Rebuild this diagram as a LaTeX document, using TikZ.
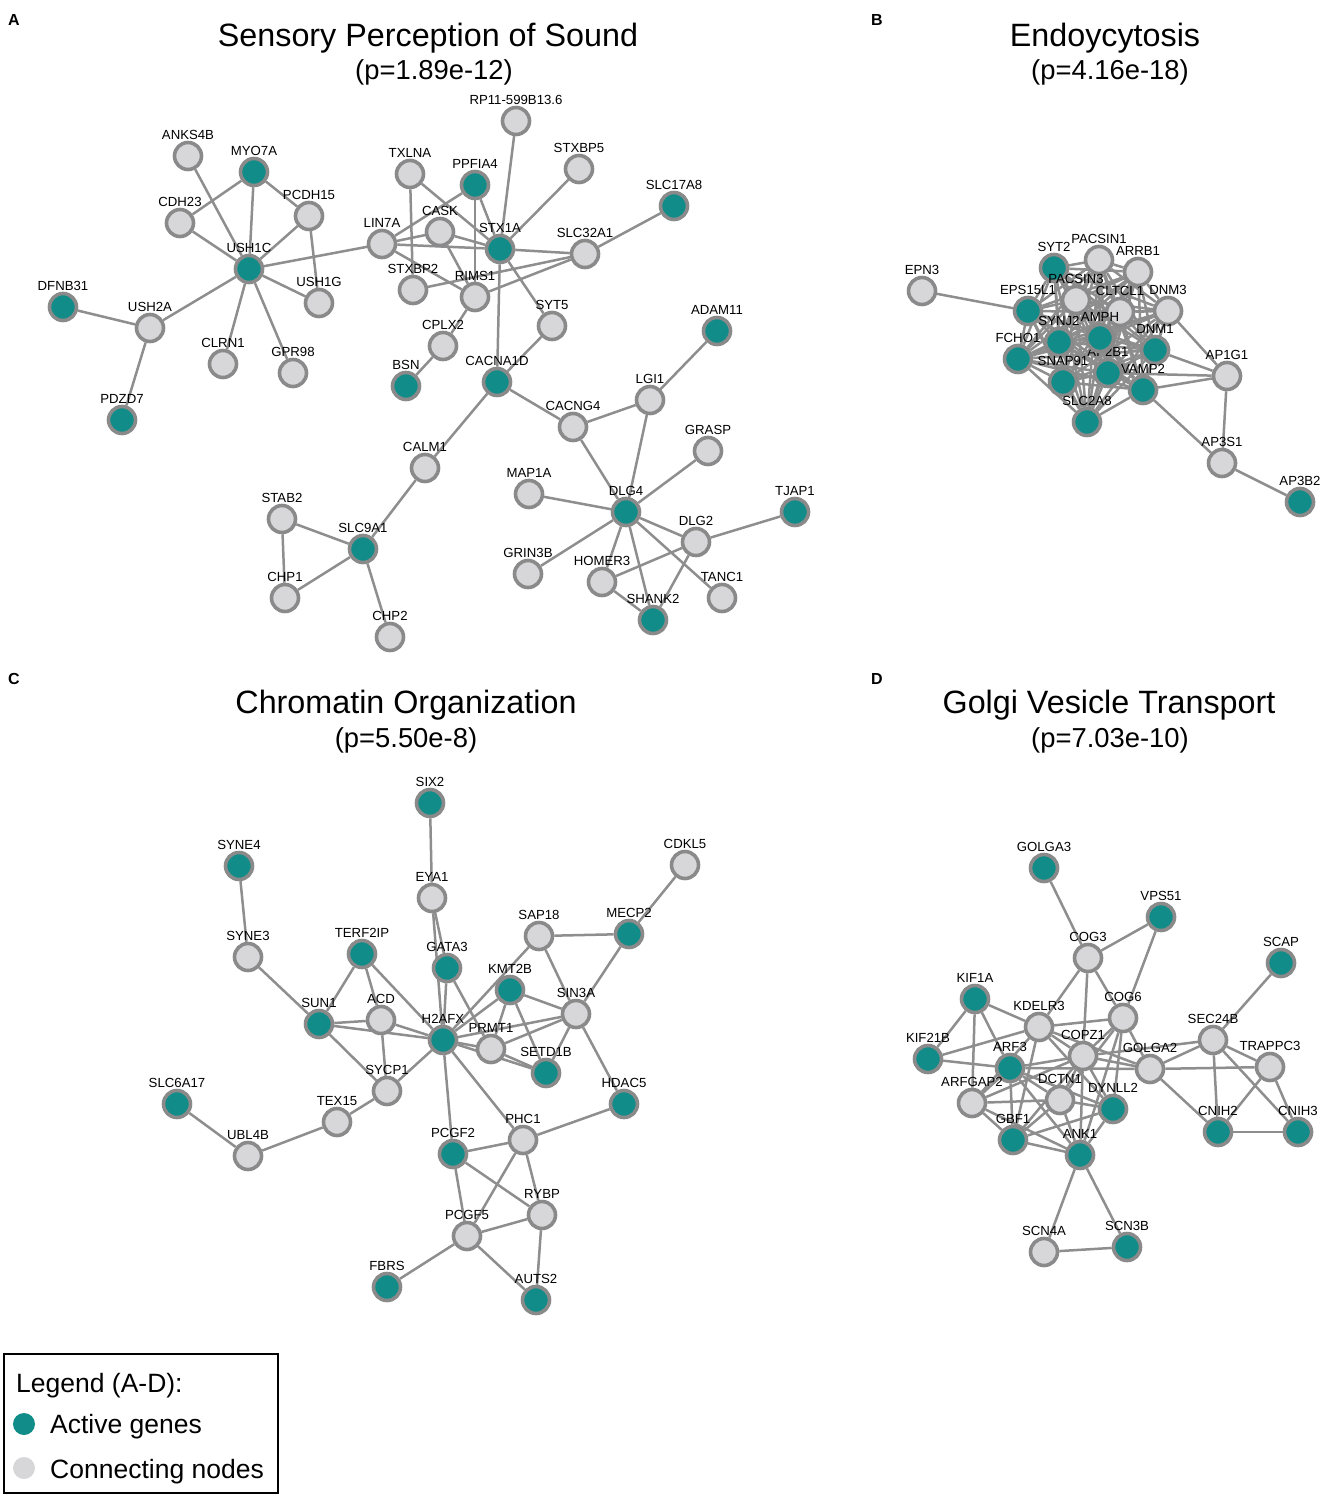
\documentclass[tikz,border=0pt]{standalone}
\usepackage{fontspec}
\setmainfont{Liberation Sans}
\definecolor{activeteal}{RGB}{18,140,136}
\definecolor{nodegray}{RGB}{215,215,217}
\definecolor{rimgray}{RGB}{138,138,138}
\definecolor{linkgray}{RGB}{142,142,142}
\newcommand{\genefont}{\fontsize{13.2}{15}\selectfont}
\pgfdeclarelayer{edges}
\pgfsetlayers{edges,main}
\tikzstyle{active} = [circle, minimum size=27pt, inner sep=0pt, line width=3.6pt, draw=rimgray, fill=activeteal]
\tikzstyle{linker} = [circle, minimum size=27pt, inner sep=0pt, line width=3.6pt, draw=rimgray, fill=nodegray]
\tikzstyle{link} = [line width=2.5pt, draw=linkgray]
\tikzstyle{every label} = [font=\genefont, inner sep=1pt, text=black]
\tikzstyle{paneltitle} = [anchor=base, inner sep=0pt, font=\fontsize{32.3}{37}\selectfont]
\tikzstyle{pvalue} = [anchor=base, inner sep=0pt, font=\fontsize{27.4}{31}\selectfont]
\tikzstyle{panelletter} = [inner sep=0pt, font=\fontsize{16}{18}\selectfont\bfseries]
\tikzstyle{legendtext} = [anchor=base west, inner sep=0pt, font=\fontsize{26.5}{30}\selectfont]

\begin{document}
\begin{tikzpicture}[x=1pt, y=-1pt]
\useasboundingbox (0,0) rectangle (1325,1498);

\node (letterA) [panelletter] at (14,20) {A};
\node (letterB) [panelletter] at (877,20) {B};
\node (letterC) [panelletter] at (14,679) {C};
\node (letterD) [panelletter] at (877,679) {D};
\node (titleA) [paneltitle] at (428,47) {Sensory Perception of Sound};
\node (pA) [pvalue] at (434,80) {(p=1.89e-12)};
\node (titleB) [paneltitle] at (1105,47) {Endoycytosis};
\node (pB) [pvalue] at (1110,80) {(p=4.16e-18)};
\node (titleC) [paneltitle] at (406,713) {Chromatin Organization};
\node (pC) [pvalue] at (406,747) {(p=5.50e-8)};
\node (titleD) [paneltitle] at (1109,713) {Golgi Vesicle Transport};
\node (pD) [pvalue] at (1110,747) {(p=7.03e-10)};

% A
\node (anks4b) [linker, label=ANKS4B] at (188,156) {};
\node (myo7a) [active, label=MYO7A] at (254,172) {};
\node (cdh23) [linker, label=CDH23] at (180,223) {};
\node (pcdh15) [linker, label=PCDH15] at (309,216) {};
\node (ush1c) [active, label=USH1C] at (249,269) {};
\node (ush1g) [linker, label=USH1G] at (319,303) {};
\node (dfnb31) [active, label=DFNB31] at (63,307) {};
\node (ush2a) [linker, label=USH2A] at (150,328) {};
\node (clrn1) [linker, label=CLRN1] at (223,364) {};
\node (gpr98) [linker, label=GPR98] at (293,373) {};
\node (pdzd7) [active, label=PDZD7] at (122,420) {};
\node (rp11) [linker, label=RP11-599B13.6] at (516,121) {};
\node (txlna) [linker, label=TXLNA] at (410,174) {};
\node (ppfia4) [active, label=PPFIA4] at (475,185) {};
\node (stxbp5) [linker, label=STXBP5] at (579,169) {};
\node (slc17a8) [active, label=SLC17A8] at (674,206) {};
\node (cask) [linker, label=CASK] at (440,232) {};
\node (lin7a) [linker, label=LIN7A] at (382,244) {};
\node (stx1a) [active, label=STX1A] at (500,249) {};
\node (slc32a1) [linker, label=SLC32A1] at (585,254) {};
\node (stxbp2) [linker, label=STXBP2] at (413,290) {};
\node (rims1) [linker, label=RIMS1] at (475,297) {};
\node (syt5) [linker, label=SYT5] at (552,326) {};
\node (cplx2) [linker, label=CPLX2] at (443,346) {};
\node (bsn) [active, label=BSN] at (406,386) {};
\node (cacna1d) [active, label=CACNA1D] at (497,382) {};
\node (adam11) [active, label=ADAM11] at (717,331) {};
\node (lgi1) [linker, label=LGI1] at (650,400) {};
\node (cacng4) [linker, label=CACNG4] at (573,427) {};
\node (calm1) [linker, label=CALM1] at (425,468) {};
\node (grasp) [linker, label=GRASP] at (708,451) {};
\node (map1a) [linker, label=MAP1A] at (529,494) {};
\node (dlg4) [active, label=DLG4] at (626,512) {};
\node (tjap1) [active, label=TJAP1] at (795,512) {};
\node (stab2) [linker, label=STAB2] at (282,519) {};
\node (slc9a1) [active, label=SLC9A1] at (363,549) {};
\node (dlg2) [linker, label=DLG2] at (696,542) {};
\node (grin3b) [linker, label=GRIN3B] at (528,574) {};
\node (homer3) [linker, label=HOMER3] at (602,582) {};
\node (tanc1) [linker, label=TANC1] at (722,598) {};
\node (chp1) [linker, label=CHP1] at (285,598) {};
\node (shank2) [active, label=SHANK2] at (653,620) {};
\node (chp2) [linker, label=CHP2] at (390,637) {};

% B
\node (epn3) [linker, label=EPN3] at (922,291) {};
\node (syt2) [active, label=SYT2] at (1054,268) {};
\node (pacsin1) [linker, label=PACSIN1] at (1099,260) {};
\node (arrb1) [linker, label=ARRB1] at (1138,272) {};
\node (pacsin3) [linker, label=PACSIN3] at (1076,300) {};
\node (eps15l1) [active, label=EPS15L1] at (1028,311) {};
\node (cltcl1) [linker, label=CLTCL1] at (1120,312) {};
\node (dnm3) [linker, label=DNM3] at (1168,311) {};
\node (ap2b1) [active, label=AP2B1] at (1108,373) {};
\node (synj2) [active, label=SYNJ2] at (1059,342) {};
\node (amph) [active, label=AMPH] at (1100,338) {};
\node (dnm1) [active, label=DNM1] at (1155,350) {};
\node (fcho1) [active, label=FCHO1] at (1018,359) {};
\node (snap91) [active, label=SNAP91] at (1063,382) {};
\node (vamp2) [active, label=VAMP2] at (1143,390) {};
\node (ap1g1) [linker, label=AP1G1] at (1227,376) {};
\node (slc2a8) [active, label=SLC2A8] at (1087,422) {};
\node (ap3s1) [linker, label=AP3S1] at (1222,463) {};
\node (ap3b2) [active, label=AP3B2] at (1300,502) {};

% C
\node (six2) [active, label=SIX2] at (430,803) {};
\node (syne4) [active, label=SYNE4] at (239,866) {};
\node (cdkl5) [linker, label=CDKL5] at (685,865) {};
\node (eya1) [linker, label=EYA1] at (432,898) {};
\node (sap18) [linker, label=SAP18] at (539,936) {};
\node (mecp2) [active, label=MECP2] at (629,934) {};
\node (syne3) [linker, label=SYNE3] at (248,957) {};
\node (terf2ip) [active, label=TERF2IP] at (362,954) {};
\node (gata3) [active, label=GATA3] at (447,968) {};
\node (kmt2b) [active, label=KMT2B] at (510,990) {};
\node (sin3a) [linker, label=SIN3A] at (576,1014) {};
\node (sun1) [active, label=SUN1] at (319,1024) {};
\node (acd) [linker, label=ACD] at (381,1020) {};
\node (h2afx) [active, label=H2AFX] at (443,1040) {};
\node (prmt1) [linker, label=PRMT1] at (491,1049) {};
\node (setd1b) [active, label=SETD1B] at (546,1073) {};
\node (sycp1) [linker, label=SYCP1] at (387,1091) {};
\node (slc6a17) [active, label=SLC6A17] at (177,1104) {};
\node (hdac5) [active, label=HDAC5] at (624,1104) {};
\node (tex15) [linker, label=TEX15] at (337,1122) {};
\node (phc1) [linker, label=PHC1] at (523,1140) {};
\node (pcgf2) [active, label=PCGF2] at (453,1154) {};
\node (ubl4b) [linker, label=UBL4B] at (248,1156) {};
\node (rybp) [linker, label=RYBP] at (542,1215) {};
\node (pcgf5) [linker, label=PCGF5] at (467,1236) {};
\node (fbrs) [active, label=FBRS] at (387,1287) {};
\node (auts2) [active, label=AUTS2] at (536,1300) {};

% D
\node (golga3) [active, label=GOLGA3] at (1044,868) {};
\node (vps51) [active, label=VPS51] at (1161,917) {};
\node (scap) [active, label=SCAP] at (1281,963) {};
\node (cog3) [linker, label=COG3] at (1088,958) {};
\node (kif1a) [active, label=KIF1A] at (975,999) {};
\node (cog6) [linker, label=COG6] at (1123,1018) {};
\node (kdelr3) [linker, label=KDELR3] at (1039,1027) {};
\node (sec24b) [linker, label=SEC24B] at (1213,1040) {};
\node (copz1) [linker, label=COPZ1] at (1083,1056) {};
\node (kif21b) [active, label=KIF21B] at (928,1059) {};
\node (trappc3) [linker, label=TRAPPC3] at (1270,1067) {};
\node (golga2) [linker, label=GOLGA2] at (1150,1069) {};
\node (arf3) [active, label=ARF3] at (1010,1068) {};
\node (dctn1) [linker, label=DCTN1] at (1060,1100) {};
\node (arfgap2) [linker, label=ARFGAP2] at (972,1103) {};
\node (dynll2) [active, label=DYNLL2] at (1113,1109) {};
\node (cnih2) [active, label=CNIH2] at (1218,1132) {};
\node (cnih3) [active, label=CNIH3] at (1298,1132) {};
\node (gbf1) [active, label=GBF1] at (1013,1140) {};
\node (ank1) [active, label=ANK1] at (1080,1155) {};
\node (scn4a) [linker, label=SCN4A] at (1044,1252) {};
\node (scn3b) [active, label=SCN3B] at (1127,1247) {};

% legend
\draw [line width=1.3pt] (4,1354) rectangle (278,1493);
\node (legendhead) [legendtext] at (16,1392) {Legend (A-D):};
\node (keyactive) [circle, fill=activeteal, minimum size=22pt, inner sep=0pt] at (24,1424) {};
\node (keyactivetext) [legendtext] at (50,1433) {Active genes};
\node (keylinker) [circle, fill=nodegray, minimum size=22pt, inner sep=0pt] at (24,1468) {};
\node (keylinkertext) [legendtext] at (50,1478) {Connecting nodes};

\begin{pgfonlayer}{edges}
\draw [link] (anks4b) -- (ush1c);
\draw [link] (myo7a) -- (cdh23);
\draw [link] (myo7a) -- (ush1c);
\draw [link] (myo7a) -- (pcdh15);
\draw [link] (cdh23) -- (ush1c);
\draw [link] (pcdh15) -- (ush1c);
\draw [link] (pcdh15) -- (ush1g);
\draw [link] (ush1c) -- (ush1g);
\draw [link] (ush1c) -- (ush2a);
\draw [link] (ush1c) -- (clrn1);
\draw [link] (ush1c) -- (gpr98);
\draw [link] (ush1c) -- (lin7a);
\draw [link] (dfnb31) -- (ush2a);
\draw [link] (ush2a) -- (pdzd7);
\draw [link] (txlna) -- (stxbp2);
\draw [link] (txlna) -- (stx1a);
\draw [link] (ppfia4) -- (lin7a);
\draw [link] (ppfia4) -- (rims1);
\draw [link] (ppfia4) -- (stx1a);
\draw [link] (lin7a) -- (cask);
\draw [link] (lin7a) -- (stx1a);
\draw [link] (lin7a) -- (rims1);
\draw [link] (cask) -- (stx1a);
\draw [link] (cask) -- (rims1);
\draw [link] (stx1a) -- (rp11);
\draw [link] (stx1a) -- (stxbp5);
\draw [link] (stx1a) -- (slc32a1);
\draw [link] (stx1a) -- (syt5);
\draw [link] (stx1a) -- (cacna1d);
\draw [link] (stxbp2) -- (slc32a1);
\draw [link] (rims1) -- (slc32a1);
\draw [link] (rims1) -- (cplx2);
\draw [link] (cplx2) -- (bsn);
\draw [link] (syt5) -- (cacna1d);
\draw [link] (slc32a1) -- (slc17a8);
\draw [link] (cacna1d) -- (cacng4);
\draw [link] (cacna1d) -- (calm1);
\draw [link] (lgi1) -- (adam11);
\draw [link] (lgi1) -- (cacng4);
\draw [link] (lgi1) -- (dlg4);
\draw [link] (cacng4) -- (dlg4);
\draw [link] (grasp) -- (dlg4);
\draw [link] (map1a) -- (dlg4);
\draw [link] (dlg4) -- (grin3b);
\draw [link] (dlg4) -- (homer3);
\draw [link] (dlg4) -- (shank2);
\draw [link] (dlg4) -- (dlg2);
\draw [link] (dlg4) -- (tanc1);
\draw [link] (dlg2) -- (homer3);
\draw [link] (dlg2) -- (shank2);
\draw [link] (dlg2) -- (tjap1);
\draw [link] (homer3) -- (shank2);
\draw [link] (calm1) -- (slc9a1);
\draw [link] (stab2) -- (slc9a1);
\draw [link] (stab2) -- (chp1);
\draw [link] (slc9a1) -- (chp1);
\draw [link] (slc9a1) -- (chp2);

\foreach \u [count=\i] in {syt2,pacsin1,arrb1,pacsin3,eps15l1,cltcl1,dnm3,synj2,amph,dnm1,fcho1,ap2b1,snap91,vamp2,slc2a8}
  \foreach \v [count=\j] in {syt2,pacsin1,arrb1,pacsin3,eps15l1,cltcl1,dnm3,synj2,amph,dnm1,fcho1,ap2b1,snap91,vamp2,slc2a8}
    {\ifnum\j>\i \draw [link] (\u) -- (\v); \fi}
\draw [link] (epn3) -- (eps15l1);
\draw [link] (dnm3) -- (ap1g1);
\draw [link] (dnm1) -- (ap1g1);
\draw [link] (ap2b1) -- (ap1g1);
\draw [link] (vamp2) -- (ap1g1);
\draw [link] (vamp2) -- (ap3s1);
\draw [link] (ap1g1) -- (ap3s1);
\draw [link] (ap3s1) -- (ap3b2);

\draw [link] (six2) -- (eya1);
\draw [link] (eya1) -- (gata3);
\draw [link] (eya1) -- (h2afx);
\draw [link] (syne4) -- (syne3);
\draw [link] (syne3) -- (sun1);
\draw [link] (terf2ip) -- (sun1);
\draw [link] (terf2ip) -- (acd);
\draw [link] (terf2ip) -- (h2afx);
\draw [link] (sun1) -- (acd);
\draw [link] (sun1) -- (h2afx);
\draw [link] (acd) -- (h2afx);
\draw [link] (sun1) -- (sycp1);
\draw [link] (acd) -- (sycp1);
\draw [link] (sycp1) -- (h2afx);
\draw [link] (sycp1) -- (tex15);
\draw [link] (tex15) -- (ubl4b);
\draw [link] (ubl4b) -- (slc6a17);
\draw [link] (gata3) -- (h2afx);
\draw [link] (gata3) -- (prmt1);
\draw [link] (kmt2b) -- (h2afx);
\draw [link] (sap18) -- (h2afx);
\draw [link] (kmt2b) -- (sin3a);
\draw [link] (kmt2b) -- (prmt1);
\draw [link] (kmt2b) -- (setd1b);
\draw [link] (sap18) -- (mecp2);
\draw [link] (sap18) -- (sin3a);
\draw [link] (mecp2) -- (sin3a);
\draw [link] (mecp2) -- (cdkl5);
\draw [link] (sin3a) -- (h2afx);
\draw [link] (sin3a) -- (prmt1);
\draw [link] (sin3a) -- (setd1b);
\draw [link] (sin3a) -- (hdac5);
\draw [link] (h2afx) -- (prmt1);
\draw [link] (h2afx) -- (setd1b);
\draw [link] (prmt1) -- (setd1b);
\draw [link] (h2afx) -- (phc1);
\draw [link] (h2afx) -- (pcgf2);
\draw [link] (phc1) -- (hdac5);
\draw [link] (phc1) -- (pcgf2);
\draw [link] (phc1) -- (pcgf5);
\draw [link] (phc1) -- (rybp);
\draw [link] (pcgf2) -- (pcgf5);
\draw [link] (pcgf2) -- (rybp);
\draw [link] (pcgf5) -- (rybp);
\draw [link] (pcgf5) -- (auts2);
\draw [link] (pcgf5) -- (fbrs);
\draw [link] (rybp) -- (auts2);

\draw [link] (golga3) -- (cog3);
\draw [link] (cog3) -- (vps51);
\draw [link] (vps51) -- (cog6);
\draw [link] (cog3) -- (cog6);
\draw [link] (cog3) -- (kdelr3);
\draw [link] (cog3) -- (copz1);
\draw [link] (scap) -- (sec24b);
\draw [link] (kif1a) -- (kif21b);
\draw [link] (kif1a) -- (arfgap2);
\draw [link] (kif1a) -- (arf3);
\draw [link] (kif1a) -- (kdelr3);
\draw [link] (kif21b) -- (kdelr3);
\draw [link] (kif21b) -- (arf3);
\draw [link] (kdelr3) -- (cog6);
\draw [link] (kdelr3) -- (copz1);
\draw [link] (kdelr3) -- (arfgap2);
\draw [link] (kdelr3) -- (gbf1);
\draw [link] (kdelr3) -- (golga2);
\draw [link] (kdelr3) -- (dynll2);
\draw [link] (cog6) -- (copz1);
\draw [link] (cog6) -- (golga2);
\draw [link] (cog6) -- (dynll2);
\draw [link] (cog6) -- (ank1);
\draw [link] (cog6) -- (dctn1);
\draw [link] (copz1) -- (arf3);
\draw [link] (copz1) -- (golga2);
\draw [link] (copz1) -- (dctn1);
\draw [link] (copz1) -- (gbf1);
\draw [link] (copz1) -- (arfgap2);
\draw [link] (copz1) -- (ank1);
\draw [link] (copz1) -- (dynll2);
\draw [link] (copz1) -- (sec24b);
\draw [link] (golga2) -- (sec24b);
\draw [link] (golga2) -- (trappc3);
\draw [link] (golga2) -- (cnih2);
\draw [link] (golga2) -- (arf3);
\draw [link] (sec24b) -- (trappc3);
\draw [link] (sec24b) -- (cnih2);
\draw [link] (sec24b) -- (cnih3);
\draw [link] (trappc3) -- (cnih2);
\draw [link] (trappc3) -- (cnih3);
\draw [link] (cnih2) -- (cnih3);
\draw [link] (arf3) -- (arfgap2);
\draw [link] (arf3) -- (gbf1);
\draw [link] (arf3) -- (dctn1);
\draw [link] (arf3) -- (dynll2);
\draw [link] (arf3) -- (ank1);
\draw [link] (arfgap2) -- (dctn1);
\draw [link] (arfgap2) -- (gbf1);
\draw [link] (arfgap2) -- (ank1);
\draw [link] (dctn1) -- (gbf1);
\draw [link] (dctn1) -- (ank1);
\draw [link] (dctn1) -- (dynll2);
\draw [link] (gbf1) -- (ank1);
\draw [link] (gbf1) -- (dynll2);
\draw [link] (dynll2) -- (ank1);
\draw [link] (ank1) -- (scn4a);
\draw [link] (ank1) -- (scn3b);
\draw [link] (scn4a) -- (scn3b);
\end{pgfonlayer}
\end{tikzpicture}
\end{document}
